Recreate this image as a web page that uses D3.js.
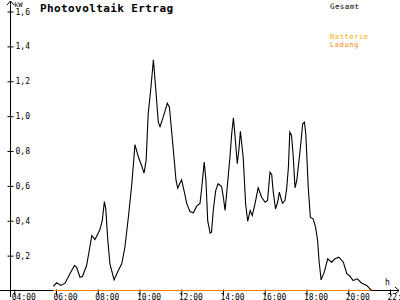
<!DOCTYPE html>
<html>
<head>
<meta charset="utf-8">
<script src="https://cdn.jsdelivr.net/npm/d3@7"></script>
<style>
  body { margin: 0; background: #fff; }
  svg { display: block; }
  text { font-family: "DejaVu Sans Mono", monospace; }
</style>
</head>
<body>
<div id="chart"></div>
<script>
// Uhrzeit der Messpunkte
let zeiten = ["05:52","06:02","06:14","06:26","06:40","06:53","06:59","07:09","07:16","07:28",
  "07:38","07:43","07:52","08:06","08:13","08:19","08:23","08:29","08:35","08:47",
  "08:59","09:09","09:18","09:28","09:38","09:47","09:57","10:06","10:13","10:19",
  "10:25","10:32","10:40","10:47","10:54","10:59","11:08","11:20","11:26","11:33",
  "11:40","11:45","11:50","11:56","12:01","12:09","12:16","12:25","12:35","12:44",
  "12:54","12:59","13:06","13:11","13:16","13:23","13:27","13:32","13:39","13:46",
  "13:56","14:01","14:06","14:13","14:20","14:25","14:30","14:34","14:41","14:46",
  "14:50","14:58","15:05","15:11","15:18","15:24","15:32","15:41","15:51","16:01",
  "16:08","16:15","16:20","16:24","16:31","16:37","16:42","16:47","16:51","16:58",
  "17:03","17:08","17:12","17:17","17:22","17:27","17:32","17:38","17:44","17:49",
  "17:54","17:58","18:05","18:11","18:19","18:26","18:32","18:36","18:42","18:51",
  "19:01","19:12","19:22","19:33","19:46","19:56","20:05","20:14","20:26","20:39",
  "20:53","21:07"]

// Gesamt Leistung in kW
let gesamt = [0.023,0.044,0.029,0.042,0.096,0.143,0.134,0.076,0.080,0.143,
  0.258,0.315,0.292,0.348,0.401,0.510,0.468,0.287,0.153,0.061,
  0.115,0.153,0.248,0.420,0.612,0.837,0.764,0.717,0.673,0.745,
  1.013,1.147,1.323,1.147,0.965,0.940,0.994,1.074,1.051,0.899,
  0.745,0.631,0.587,0.615,0.635,0.564,0.497,0.453,0.446,0.482,
  0.501,0.592,0.736,0.631,0.401,0.329,0.334,0.459,0.573,0.612,
  0.596,0.535,0.459,0.612,0.764,0.899,0.990,0.899,0.727,0.813,
  0.913,0.764,0.497,0.397,0.459,0.430,0.497,0.589,0.535,0.506,
  0.516,0.678,0.665,0.573,0.468,0.506,0.564,0.526,0.501,0.516,
  0.583,0.707,0.908,0.889,0.764,0.589,0.631,0.736,0.850,0.956,
  0.965,0.899,0.592,0.420,0.411,0.363,0.287,0.172,0.061,0.105,
  0.182,0.162,0.182,0.191,0.162,0.096,0.082,0.057,0.067,0.042,
  0.029,0.000]

// Batterie Ladung in kW (den ganzen Tag 0)
let ladung = zeiten.map(() => 0)

let xTicks = [4, 6, 8, 10, 12, 14, 16, 18, 20, 22]
let yTicks = [0.2, 0.4, 0.6, 0.8, 1.0, 1.2, 1.4, 1.6]

let width = 400, height = 300

let toHours = (s) => {
  let p = s.split(":")
  return +p[0] + p[1] / 60
}

let x = d3.scaleLinear().domain([4, 22]).range([14.25, 390])
let y = d3.scaleLinear().domain([0, 1.6]).range([290.5, 11.5])

let svg = d3.select("#chart").append("svg")
  .attr("width", width)
  .attr("height", height)

// Achsen
let xAxis = svg.append("g")
  .attr("transform", "translate(0,290.5)")
  .call(d3.axisBottom(x).tickValues(xTicks).tickSize(5)
    .tickFormat(d => String(d).padStart(2, "0") + ":00"))
xAxis.select(".domain").remove()
xAxis.selectAll("line").attr("stroke", "#000").attr("y1", -1)
xAxis.selectAll("text")
  .attr("text-anchor", "start")
  .attr("x", -3)
  .attr("y", 9)
  .attr("dy", 0)
  .style("font-size", "8px")
  .attr("fill", "#000")

let yAxis = svg.append("g")
  .attr("transform", "translate(10.5,0)")
  .call(d3.axisRight(y).tickValues(yTicks).tickSize(3).tickPadding(2)
    .tickFormat(d => d.toFixed(1).replace(".", ",")))
yAxis.select(".domain").remove()
yAxis.selectAll("line").attr("stroke", "#000").attr("x1", -3)
yAxis.selectAll("text")
  .style("font-size", "8px")
  .attr("fill", "#000")

// Achsenlinien mit Pfeilen
svg.append("line")
  .attr("x1", 0).attr("x2", 399)
  .attr("y1", 290.5).attr("y2", 290.5)
  .attr("stroke", "#000")
svg.append("path")
  .attr("d", "M395,287 L399,290.5 L395,294")
  .attr("fill", "none").attr("stroke", "#000")
svg.append("line")
  .attr("x1", 10.5).attr("x2", 10.5)
  .attr("y1", 1).attr("y2", 297)
  .attr("stroke", "#000")
svg.append("path")
  .attr("d", "M7,5 L10.5,1 L14,5")
  .attr("fill", "none").attr("stroke", "#000")

svg.append("text").attr("x", 14).attr("y", 7)
  .style("font-size", "7px").text("kW")
svg.append("text").attr("x", 385).attr("y", 285)
  .style("font-size", "8px").text("h")

// Batterie Ladung (orange Linie auf der Nulllinie)
let line = d3.line()
  .x((d, i) => x(toHours(zeiten[i])))
  .y(d => y(d))

svg.append("path")
  .datum(ladung)
  .attr("d", line)
  .attr("fill", "none")
  .attr("stroke", "#ff8000")
  .attr("stroke-width", 1.2)

// Gesamt
svg.append("path")
  .datum(gesamt)
  .attr("d", line)
  .attr("fill", "none")
  .attr("stroke", "#000")
  .attr("stroke-width", 1.1)

// Titel und Legende
svg.append("text").attr("x", 40).attr("y", 12)
  .style("font-size", "11px").style("font-weight", "bold")
  .style("letter-spacing", "0.4px")
  .text("Photovoltaik Ertrag")

svg.append("text").attr("x", 330).attr("y", 9)
  .style("font-size", "7.5px").style("letter-spacing", "0.4px")
  .attr("fill", "#000").text("Gesamt")
svg.append("text").attr("x", 330).attr("y", 38.5)
  .style("font-size", "7px").style("letter-spacing", "0.6px")
  .attr("fill", "#ffaa00").text("Batterie")
svg.append("text").attr("x", 330).attr("y", 46.5)
  .style("font-size", "7px").style("letter-spacing", "0.6px")
  .attr("fill", "#ff8000").text("Ladung")
</script>
</body>
</html>
